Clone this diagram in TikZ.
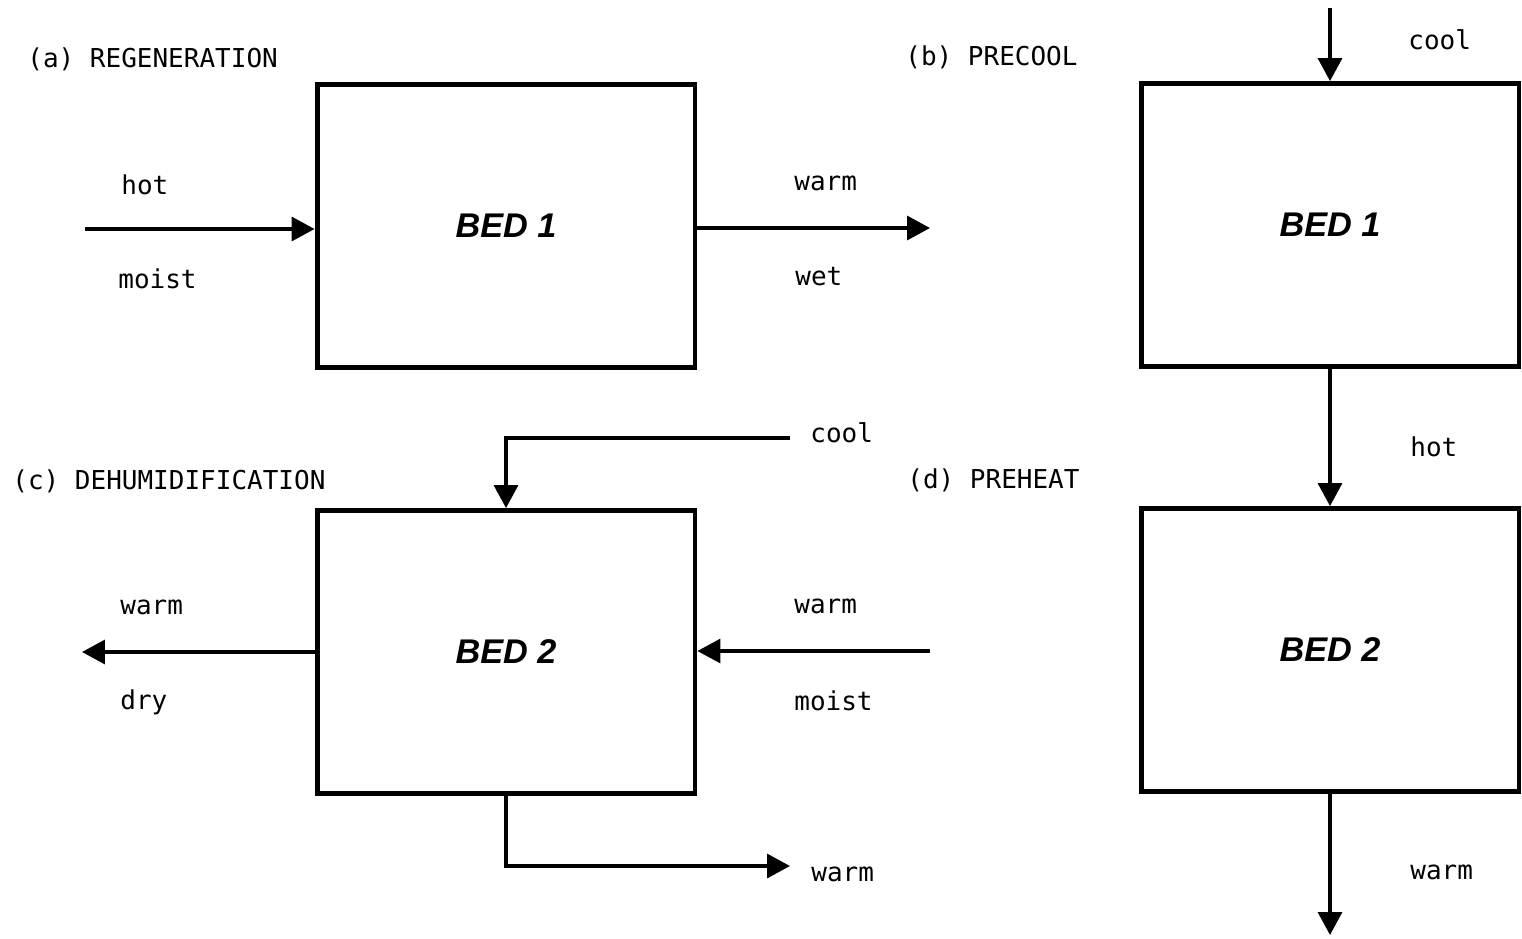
\documentclass[tikz,border=0pt]{standalone}
\usepackage{fontspec}
\setmainfont{DejaVu Sans Mono}
\newfontfamily\bedfont{Liberation Sans}
\usetikzlibrary{arrows.meta}
\begin{document}
\begin{tikzpicture}[x=0.02cm,y=-0.02cm,
  bedbox/.style={draw,line width=2.8pt,minimum width=7.56cm,minimum height=5.66cm,inner sep=0pt,
    font=\bedfont\fontsize{19.5}{19.5}\selectfont\bfseries\itshape},
  flow/.style={line width=1.9pt,-{Triangle[length=0.46cm,width=0.48cm]}},
  lbl/.style={anchor=west,inner sep=0pt,font=\fontsize{14.8}{14.8}\selectfont},
  ttl/.style={lbl}]
\useasboundingbox (0,0) rectangle (1522,938);

% beds
\node[bedbox] (boxa) at (506,226) {BED 1};
\node[bedbox] (boxb) at (1330,225) {BED 1};
\node[bedbox] (boxc) at (506,652) {BED 2};
\node[bedbox] (boxd) at (1330,650) {BED 2};

% panel titles
\node[ttl] (ta) at (27,59) {(a) REGENERATION};
\node[ttl] (tb) at (905,57) {(b) PRECOOL};
\node[ttl] (tc) at (12,481) {(c) DEHUMIDIFICATION};
\node[ttl] (td) at (907,480) {(d) PREHEAT};

% free ends of the streams
\coordinate (ain) at (85,229);
\coordinate (aout) at (930,228);
\coordinate (bin) at (1330,8);
\coordinate (dout) at (1330,935);
\coordinate (cin) at (790,438);
\coordinate (cleft) at (82,652);
\coordinate (cright) at (930,651);
\coordinate (cbot) at (790,866);

% (a) regeneration streams
\draw[flow] (ain) -- (ain -| boxa.west);
\draw[flow] (aout -| boxa.east) -- (aout);
% (b)/(d) precool and preheat streams
\draw[flow] (bin) -- (boxb.north);
\draw[flow] (boxb.south) -- (boxd.north);
\draw[flow] (boxd.south) -- (dout);
% (c) dehumidification streams
\draw[flow] (cin) -- (cin -| boxc.north) -- (boxc.north);
\draw[flow] (cleft -| boxc.west) -- (cleft);
\draw[flow] (cright) -- (cright -| boxc.east);
\draw[flow] (boxc.south) -- (boxc.south |- cbot) -- (cbot);

% stream labels
\node[lbl] (l1) at (121,185) {hot};
\node[lbl] (l2) at (118,279) {moist};
\node[lbl] (l3) at (794,183) {warm};
\node[lbl] (l4) at (795,277) {wet};
\node[lbl] (l5) at (1408,40) {cool};
\node[lbl] (l6) at (1410,447) {hot};
\node[lbl] (l7) at (1410,872) {warm};
\node[lbl] (l8) at (810,433) {cool};
\node[lbl] (l9) at (120,607) {warm};
\node[lbl] (l10) at (120,702) {dry};
\node[lbl] (l11) at (794,606) {warm};
\node[lbl] (l12) at (794,701) {moist};
\node[lbl] (l13) at (811,874) {warm};
\end{tikzpicture}
\end{document}
